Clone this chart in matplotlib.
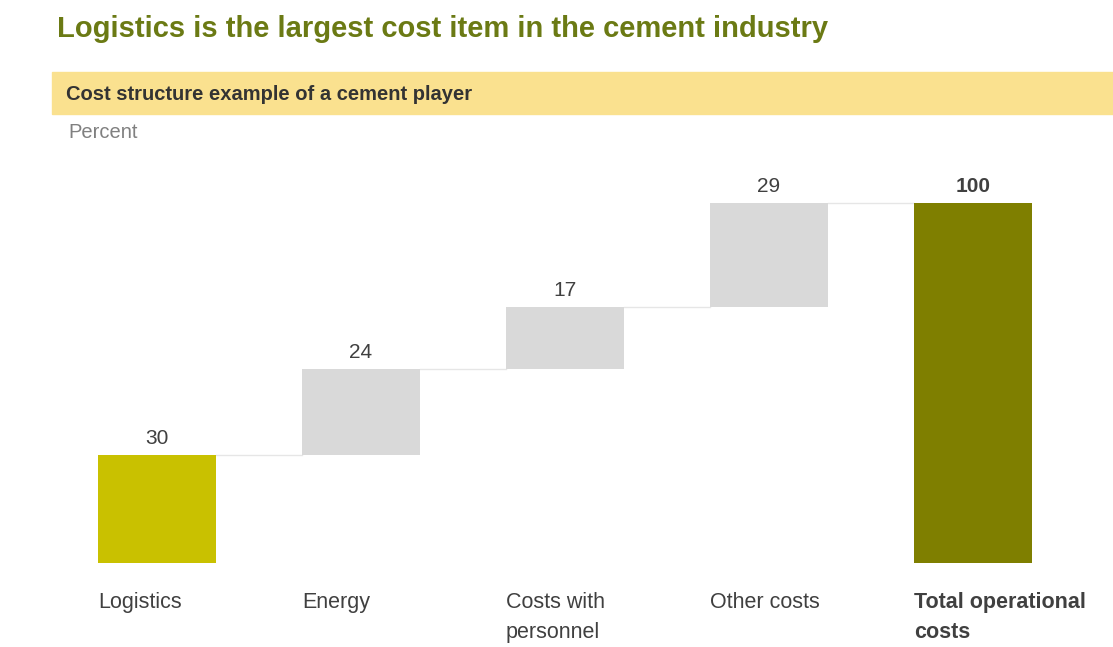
import matplotlib.pyplot as plt
from matplotlib.patches import Rectangle

# Cost structure data (percent)
categories = ['Logistics', 'Energy', 'Costs with\npersonnel', 'Other costs', 'Total operational\ncosts']
values = [30, 24, 17, 29, 100]
colors = ['#c9c100', '#d9d9d9', '#d9d9d9', '#d9d9d9', '#7f7f00']

plt.rcParams['font.family'] = ['Liberation Sans', 'DejaVu Sans']

fig = plt.figure(figsize=(11.13, 6.47), dpi=100)
ax = fig.add_axes([0, 0, 1, 1])

# waterfall bottoms
bottoms = []
running = 0
for i, v in enumerate(values):
    if i == len(values) - 1:
        bottoms.append(0)
    else:
        bottoms.append(running)
        running += v

x = list(range(len(values)))
width = 0.58
ax.bar(x, values, width=width, bottom=bottoms, color=colors, zorder=2)

# connector lines
for i in range(len(values) - 1):
    level = bottoms[i] + values[i]
    ax.plot([i + width / 2, i + 1 - width / 2], [level, level], color='#e6e6e6', lw=1, zorder=1)

# value labels
for i, v in enumerate(values):
    top = bottoms[i] + v
    ax.text(i, top + 4.6, str(v), ha='center', va='center', fontsize=15,
            color='#404040', fontweight='bold' if i == len(values) - 1 else 'normal')

# category labels
for i, c in enumerate(categories):
    ax.text(i - width / 2, -8, c, ha='left', va='top', fontsize=15.5, color='#404040',
            linespacing=1.55, fontweight='bold' if i == len(values) - 1 else 'normal')

ax.set_xlim(-157 / 204, (1113 - 157) / 204)
ax.set_ylim(-84 / 3.6, 563 / 3.6)
ax.axis('off')

# header band and titles
fig.patches.append(Rectangle((52 / 1113, 1 - 114 / 647), 1, 42 / 647,
                             transform=fig.transFigure, color='#fae18f', zorder=0))
fig.text(57 / 1113, 1 - 29 / 647, 'Logistics is the largest cost item in the cement industry',
         fontsize=21, fontweight='bold', color='#6b7a14', ha='left', va='center')
fig.text(66 / 1113, 1 - 94 / 647, 'Cost structure example of a cement player',
         fontsize=14.5, fontweight='bold', color='#333333', ha='left', va='center')
fig.text(68 / 1113, 1 - 133 / 647, 'Percent', fontsize=14.5, color='#808080', ha='left', va='center')

plt.savefig('out.png', dpi=100)
